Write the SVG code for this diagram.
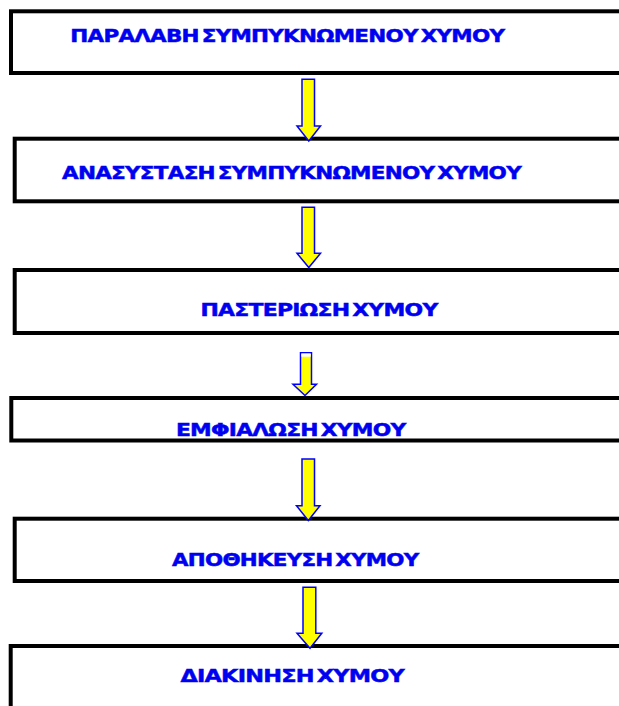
<svg xmlns="http://www.w3.org/2000/svg" width="619" height="706" viewBox="0 0 619 706">
<style>
.box{fill:#ffffff;stroke:#000000;stroke-width:4}
.lbl{font-family:"DejaVu Sans","Verdana","Liberation Sans",sans-serif;font-weight:bold;font-size:17px;fill:#0000f0;stroke:#0000f0;stroke-width:0.45;word-spacing:-3px;letter-spacing:-0.6px}
.arr{fill:#ffff00;stroke:#0000ff;stroke-width:1.5;stroke-linejoin:miter}
</style>
<rect width="619" height="706" fill="#ffffff"/>
<g id="node1">
<rect class="box" x="11" y="11.3" width="640" height="61.7"/>
<text class="lbl" x="70.3" y="41.5" textLength="434" lengthAdjust="spacingAndGlyphs">ΠΑΡΑΛΑΒΗ ΣΥΜΠΥΚΝΩΜΕΝΟΥ ΧΥΜΟΥ</text>
</g>
<g id="node2">
<rect class="box" x="14.7" y="138.7" width="640" height="62.6"/>
<text class="lbl" x="62" y="179" textLength="459" lengthAdjust="spacingAndGlyphs">ΑΝΑΣΥΣΤΑΣΗ ΣΥΜΠΥΚΝΩΜΕΝΟΥ ΧΥΜΟΥ</text>
</g>
<g id="node3">
<rect class="box" x="14.7" y="270" width="640" height="63"/>
<text class="lbl" x="200.5" y="316" textLength="237" lengthAdjust="spacingAndGlyphs">ΠΑΣΤΕΡΙΩΣΗ ΧΥΜΟΥ</text>
</g>
<g id="node4">
<rect class="box" x="11.3" y="398" width="640" height="42.5"/>
<text class="lbl" x="176" y="436" textLength="229.5" lengthAdjust="spacingAndGlyphs">ΕΜΦΙΑΛΩΣΗ ΧΥΜΟΥ</text>
</g>
<g id="node5">
<rect class="box" x="14.7" y="518.7" width="640" height="62.3"/>
<text class="lbl" x="172" y="566" textLength="246.5" lengthAdjust="spacingAndGlyphs">ΑΠΟΘΗΚΕΥΣΗ ΧΥΜΟΥ</text>
</g>
<g id="node6">
<rect class="box" x="10.7" y="646" width="640" height="100"/>
<text class="lbl" x="180.4" y="682.3" textLength="223.6" lengthAdjust="spacingAndGlyphs">ΔΙΑΚΙΝΗΣΗ ΧΥΜΟΥ</text>
</g>
<g id="connectors">
<path class="arr" d="M302,79.3 L314.5,79.3 L314.5,126 L320.5,126 L308.8,141 L297,126 L302,126 Z"/>
<path class="arr" d="M302,207.3 L314.5,207.3 L314.5,253.3 L320.5,253.3 L308.8,267.5 L297,253.3 L302,253.3 Z"/>
<path class="arr" d="M300.5,352.7 L311.5,352.7 L311.5,384.3 L316.5,384.3 L305,395.5 L293,384.3 L300.5,384.3 Z"/>
<rect x="301.3" y="353.5" width="9.4" height="3.2" fill="#ffffff"/>
<path class="arr" d="M302,459 L314.5,459 L314.5,505.7 L320,505.7 L308.3,520.5 L296.5,505.7 L302,505.7 Z"/>
<path class="arr" d="M303,587.3 L315.8,587.3 L315.8,633.3 L321.8,633.3 L310,648.3 L297,633.3 L303,633.3 Z"/>
</g>
</svg>
